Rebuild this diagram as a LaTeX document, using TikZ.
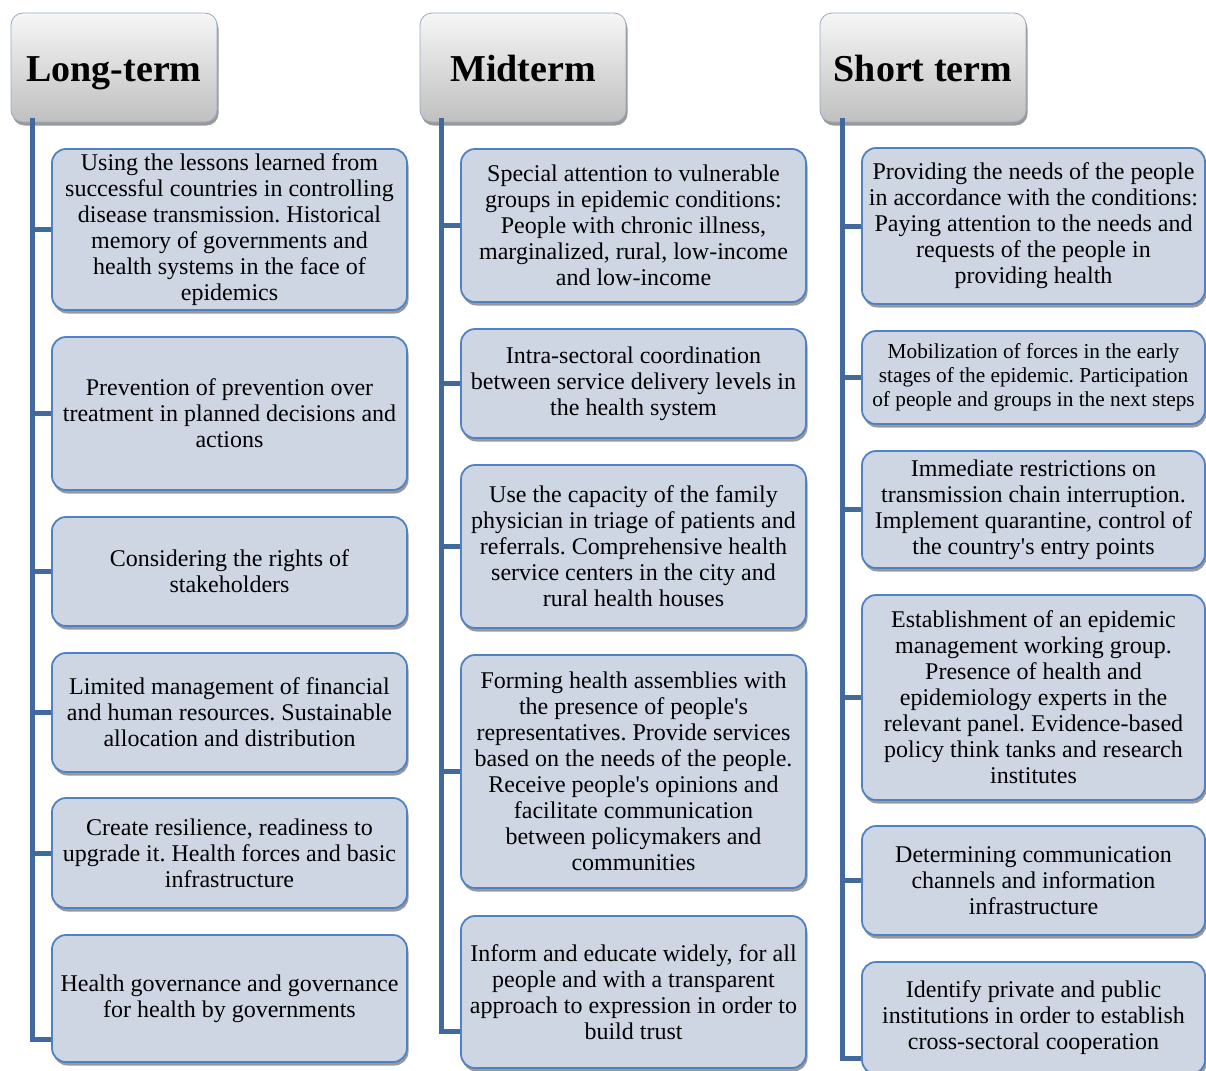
\documentclass[tikz,border=0pt]{standalone}
\usepackage{fontspec}
\setmainfont{Liberation Serif}
\usetikzlibrary{shadows,calc}
\frenchspacing
\definecolor{boxfill}{RGB}{206,214,228}
\definecolor{boxline}{RGB}{80,130,195}
\definecolor{spinecol}{RGB}{65,105,158}
\definecolor{headtop}{RGB}{246,246,246}
\definecolor{headbot}{RGB}{192,192,192}
\definecolor{headline}{RGB}{150,170,200}
\begin{document}
\begin{tikzpicture}[x=1pt,y=-1pt,
  head/.style={draw=headline,line width=0.8pt,top color=headtop,bottom color=headbot,rounded corners=12pt,
    minimum width=206pt,minimum height=109pt,text height=29pt,text depth=0pt,
    font=\fontsize{38}{40}\selectfont\bfseries,
    drop shadow={shadow xshift=1.5pt,shadow yshift=-3.5pt,fill=black!40,opacity=1}},
  box/.style={draw=boxline,line width=1.8pt,fill=boxfill,rounded corners=14pt,align=center,inner sep=0pt,
    font=\fontsize{24}{26}\selectfont,
    drop shadow={shadow xshift=1.5pt,shadow yshift=-3.5pt,fill=black!40,opacity=1}},
  longbox/.style={box,minimum width=355pt},
  midbox/.style={box,minimum width=345pt},
  shortbox/.style={box,minimum width=343pt},
  spine/.style={draw=spinecol,line width=5pt}]

\useasboundingbox (0,0) rectangle (1206,1070);

% Headers
\node [head] (h1) at (114,67.5) {Long-term};
\node [head] (h2) at (523,67.5) {Midterm};
\node [head] (h3) at (923,67.5) {Short term};

% Long-term
\node [longbox,minimum height=161pt] (b11) at (229.5,229.5) {Using the lessons learned from\\successful countries in controlling\\disease transmission. Historical\\memory of governments and\\health systems in the face of\\epidemics};
\node [longbox,minimum height=153pt] (b12) at (229.5,413.5) {Prevention of prevention over\\treatment in planned decisions and\\actions};
\node [longbox,minimum height=109pt] (b13) at (229.5,571.5) {Considering the rights of\\stakeholders};
\node [longbox,minimum height=119pt] (b14) at (229.5,712.5) {Limited management of financial\\and human resources. Sustainable\\allocation and distribution};
\node [longbox,minimum height=110pt] (b15) at (229.5,853) {Create resilience, readiness to\\upgrade it. Health forces and basic\\infrastructure};
\node [longbox,minimum height=127pt] (b16) at (229.5,998.5) {Health governance and governance\\for health by governments};

% Midterm
\node [midbox,minimum height=153pt] (b21) at (633.5,225.5) {Special attention to vulnerable\\groups in epidemic conditions:\\People with chronic illness,\\marginalized, rural, low-income\\and low-income};
\node [midbox,minimum height=109pt] (b22) at (633.5,383.5) {Intra-sectoral coordination\\between service delivery levels in\\the health system};
\node [midbox,minimum height=163pt] (b23) at (633.5,546.5) {Use the capacity of the family\\physician in triage of patients and\\referrals. Comprehensive health\\service centers in the city and\\rural health houses};
\node [midbox,minimum height=233pt] (b24) at (633.5,771.5) {Forming health assemblies with\\the presence of people\textquotesingle s\\representatives. Provide services\\based on the needs of the people.\\Receive people\textquotesingle s opinions and\\facilitate communication\\between policymakers and\\communities};
\node [midbox,minimum height=152pt] (b25) at (633.5,992) {Inform and educate widely, for all\\people and with a transparent\\approach to expression in order to\\build trust};

% Short term
\node [shortbox,minimum height=156pt] (b31) at (1033.5,226) {Providing the needs of the people\\in accordance with the conditions:\\Paying attention to the needs and\\requests of the people in\\providing health};
\node [shortbox,minimum height=93pt,font=\fontsize{21.3}{24}\selectfont] (b32) at (1033.5,377.5) {Mobilization of forces in the early\\stages of the epidemic. Participation\\of people and groups in the next steps};
\node [shortbox,minimum height=117pt] (b33) at (1033.5,509.5) {Immediate restrictions on\\transmission chain interruption.\\Implement quarantine, control of\\the country\textquotesingle s entry points};
\node [shortbox,minimum height=205pt] (b34) at (1033.5,697.5) {Establishment of an epidemic\\management working group.\\Presence of health and\\epidemiology experts in the\\relevant panel. Evidence-based\\policy think tanks and research\\institutes};
\node [shortbox,minimum height=109pt] (b35) at (1033.5,880.5) {Determining communication\\channels and information\\infrastructure};
\node [shortbox,minimum height=112pt] (b36) at (1033.5,1018) {Identify private and public\\institutions in order to establish\\cross-sectoral cooperation};

% Spines
\coordinate (s1) at (32,118);
\coordinate (s2) at (441,118);
\coordinate (s3) at (842,118);
\draw [spine] (s1) |- ($(b16.south west)+(0,-23)$);
\draw [spine] (s2) |- ($(b25.south west)+(0,-37)$);
\draw [spine] (s3) |- ($(b36.south west)+(0,-16)$);
\foreach \b in {b11,b12,b13,b14,b15} \draw [spine] (s1 |- \b.west) -- (\b.west);
\foreach \b in {b21,b22,b23,b24} \draw [spine] (s2 |- \b.west) -- (\b.west);
\foreach \b in {b31,b32,b33,b34,b35} \draw [spine] (s3 |- \b.west) -- (\b.west);
\end{tikzpicture}
\end{document}
